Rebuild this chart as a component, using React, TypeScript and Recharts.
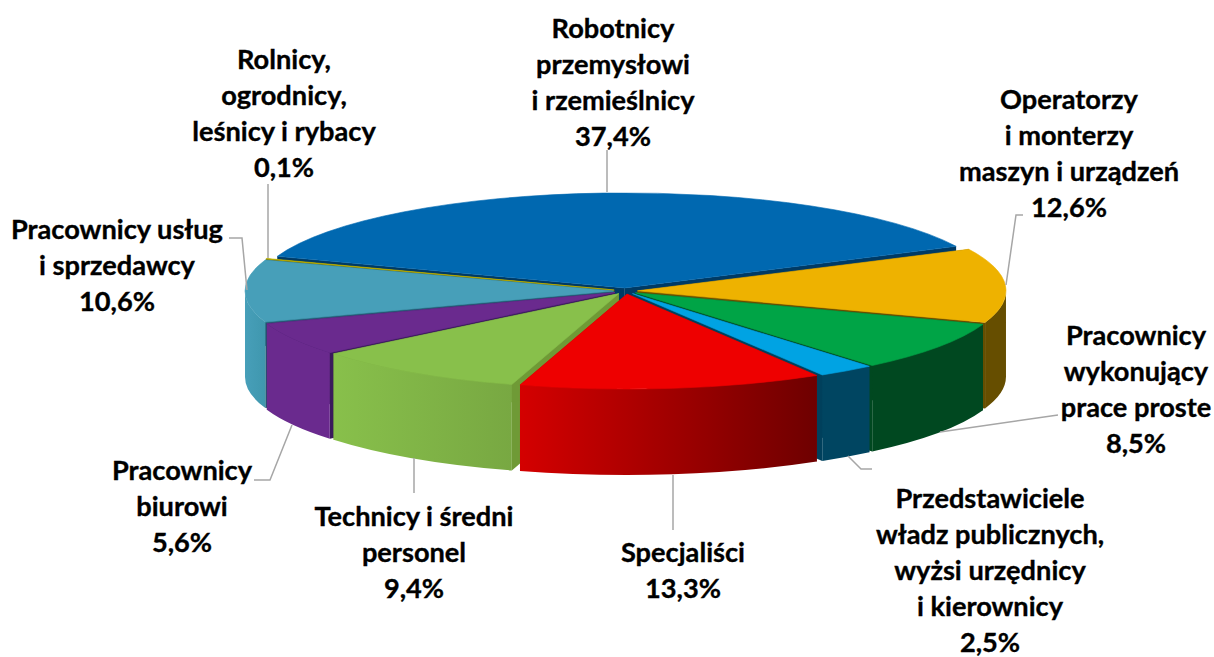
import { Pie, PieChart } from 'recharts';

const categories = [
  'Robotnicy przemysłowi i rzemieślnicy',
  'Operatorzy i monterzy maszyn i urządzeń',
  'Pracownicy wykonujący prace proste',
  'Przedstawiciele władz publicznych, wyżsi urzędnicy i kierownicy',
  'Specjaliści',
  'Technicy i średni personel',
  'Pracownicy biurowi',
  'Pracownicy usług i sprzedawcy',
  'Rolnicy, ogrodnicy, leśnicy i rybacy',
];
const shares = [37.4, 12.6, 8.5, 2.5, 13.3, 9.4, 5.6, 10.6, 0.1];

const labelLines = [
  ['Robotnicy', 'przemysłowi', 'i rzemieślnicy'],
  ['Operatorzy', 'i monterzy', 'maszyn i urządzeń'],
  ['Pracownicy', 'wykonujący', 'prace proste'],
  ['Przedstawiciele', 'władz publicznych,', 'wyżsi urzędnicy', 'i kierownicy'],
  ['Specjaliści'],
  ['Technicy i średni', 'personel'],
  ['Pracownicy', 'biurowi'],
  ['Pracownicy usług', 'i sprzedawcy'],
  ['Rolnicy,', 'ogrodnicy,', 'leśnicy i rybacy'],
];

const topColors = ['#0068b0', '#eeb200', '#00a446', '#00a3e3', '#ee0000', '#88c04b', '#6a2a8e', '#479fb9', '#bfb400'];
const wallFrom = ['#003a64', '#664e00', '#004820', '#004561', '#d40000', '#88c04b', '#6a2a8e', '#479fb9', '#6f6900'];
const wallTo = ['#003a64', '#664e00', '#004820', '#004561', '#6e0000', '#78a842', '#6a2a8e', '#3f97ae', '#6f6900'];
const cutColors = ['#003a64', '#664e00', '#004820', '#00405c', '#8a0000', '#6f9a36', '#3a1a5c', '#1f5a70', '#6f6900'];

// back to front, so the nearer slices cover the cut faces of the farther ones
const paintOrder = [0, 8, 7, 1, 6, 2, 5, 3, 4];

// text block centre x, first baseline y, leader polyline
const labelLayout = [
  { x: 613, y: 37.5, leader: '607,150 607,192' },
  { x: 1069, y: 109, leader: '1023,215 1016,215 1006,285' },
  { x: 1136, y: 345, leader: '1058,415 940,432' },
  { x: 990, y: 508, leader: '848,456 861,469 872,469' },
  { x: 683, y: 562, leader: '673,475 673,530' },
  { x: 414, y: 526, leader: '414,458 414,493' },
  { x: 182, y: 480, leader: '254,480 270,480 292,425' },
  { x: 117, y: 239, leader: '229,238 242,238 247,290' },
  { x: 284, y: 68.5, leader: '268,184 268,258' },
];

const WIDTH = 1214;
const HEIGHT = 657;
const CX = 625.5;
const CY = 291;
const RX = 368.5;
const RY = 95;
const DEPTH = 86;
const EXPLODE = 12;
const LINE_H = 36;
const START_ANGLE = 160.6;

const data = categories.map((name, i) => ({ name, value: shares[i], fill: topColors[i] }));

const rad = (deg: number) => (deg * Math.PI) / 180;

function Slice3D(props: any) {
  const { cx, cy, outerRadius, startAngle, endAngle, index } = props;
  const squash = RY / RX;
  const mid = (startAngle + endAngle) / 2;
  const ox = cx + EXPLODE * Math.cos(rad(mid));
  const oy = cy - EXPLODE * squash * Math.sin(rad(mid));
  const rx = outerRadius;
  const ry = outerRadius * squash;
  const px = (a: number) => ox + rx * Math.cos(rad(a));
  const py = (a: number) => oy - ry * Math.sin(rad(a));
  const hi = Math.max(startAngle, endAngle);
  const lo = Math.min(startAngle, endAngle);

  const walls: string[] = [];
  for (let k = -2; k <= 1; k++) {
    const a1 = Math.min(hi, 360 * k);
    const a0 = Math.max(lo, 360 * k - 180);
    if (a1 > a0) {
      walls.push(
        `M${px(a1)},${py(a1)} A${rx},${ry} 0 0 1 ${px(a0)},${py(a0)} ` +
          `L${px(a0)},${py(a0) + DEPTH} A${rx},${ry} 0 0 0 ${px(a1)},${py(a1) + DEPTH} Z`,
      );
    }
  }

  const cut = (a: number) =>
    `M${ox},${oy} L${px(a)},${py(a)} L${px(a)},${py(a) + DEPTH} L${ox},${oy + DEPTH} Z`;
  const large = hi - lo > 180 ? 1 : 0;
  const top = `M${ox},${oy} L${px(hi)},${py(hi)} A${rx},${ry} 0 ${large} 1 ${px(lo)},${py(lo)} Z`;
  const gradId = `wall-${index}`;

  return (
    <g>
      <defs>
        <linearGradient id={gradId} x1="0" y1="0" x2="1" y2="0">
          <stop offset="0%" stopColor={wallFrom[index]} />
          <stop offset="100%" stopColor={wallTo[index]} />
        </linearGradient>
      </defs>
      <path d={cut(hi)} fill={cutColors[index]} />
      <path d={cut(lo)} fill={cutColors[index]} />
      {walls.map((d) => (
        <path key={d} d={d} fill={`url(#${gradId})`} />
      ))}
      {/* thin own-colour stroke hides the seam between top and wall */}
      <path d={top} fill={topColors[index]} stroke={topColors[index]} strokeWidth={0.6} />
    </g>
  );
}

function renderLabel(props: any) {
  const { index } = props;
  const layout = labelLayout[index];
  const rows = [...labelLines[index], `${shares[index].toFixed(1).replace('.', ',')}%`];
  return (
    <g key={categories[index]}>
      <polyline points={layout.leader} fill="none" stroke="#a6a6a6" strokeWidth={1.5} />
      <text
        textAnchor="middle"
        fontFamily="Lato, sans-serif"
        fontWeight={700}
        fontSize={27.2}
        fill="#000000"
        stroke="#000000"
        strokeWidth={0.35}
      >
        {rows.map((row, r) => (
          <tspan key={row} x={layout.x} y={layout.y + r * LINE_H}>
            {row}
          </tspan>
        ))}
      </text>
    </g>
  );
}

export default function App() {
  return (
    <div style={{ position: 'absolute', left: 0, top: 0, width: WIDTH, height: HEIGHT }}>
      <PieChart width={WIDTH} height={HEIGHT} margin={{ top: 0, right: 0, bottom: 0, left: 0 }}>
        <Pie
          data={data}
          dataKey="value"
          nameKey="name"
          cx={CX}
          cy={CY}
          innerRadius={0}
          outerRadius={RX}
          startAngle={START_ANGLE}
          endAngle={START_ANGLE - 360}
          stroke="none"
          shape={() => <g />}
          label={renderLabel}
          labelLine={false}
          isAnimationActive={false}
        />
        {paintOrder.map((slice) => (
          <Pie
            key={slice}
            data={data}
            dataKey="value"
            nameKey="name"
            cx={CX}
            cy={CY}
            innerRadius={0}
            outerRadius={RX}
            startAngle={START_ANGLE}
            endAngle={START_ANGLE - 360}
            stroke="none"
            shape={(p: any) => (p.index === slice ? <Slice3D {...p} /> : <g />)}
            isAnimationActive={false}
          />
        ))}
      </PieChart>
    </div>
  );
}
